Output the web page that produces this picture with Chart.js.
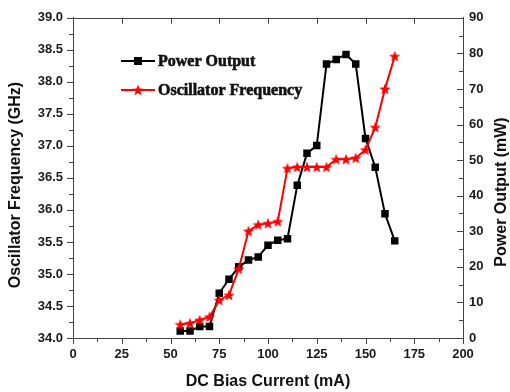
<!DOCTYPE html>
<html>
<head>
<meta charset="utf-8">
<script src="https://cdn.jsdelivr.net/npm/chart.js@4.4.1/dist/chart.umd.min.js"></script>
<style>
  html, body { margin: 0; padding: 0; background: #fff; }
  #wrap { width: 510px; height: 392px; }
</style>
</head>
<body>
<div id="wrap"><canvas id="chart" width="510" height="392"></canvas></div>
<script>
// --- Data ---
const biasCurrent = [55, 60, 65, 70, 75, 80, 85, 90, 95, 100, 105, 110, 115, 120, 125, 130, 135, 140, 145, 150, 155, 160, 165];
const powerOutput = [2.0, 2.0, 3.2, 3.2, 12.6, 16.5, 20.0, 21.9, 22.8, 26.1, 27.5, 27.9, 42.9, 51.9, 54.1, 77.0, 78.3, 79.7, 77.0, 56.1, 48.0, 34.9, 27.3];
const oscFrequency = [34.21, 34.23, 34.28, 34.33, 34.59, 34.67, 35.08, 35.67, 35.77, 35.79, 35.82, 36.65, 36.67, 36.67, 36.67, 36.67, 36.79, 36.79, 36.81, 36.94, 37.29, 37.89, 38.40];

const seriesNames = ['Power Output', 'Oscillator Frequency'];
const axisTitles = { x: 'DC Bias Current (mA)', y: 'Oscillator Frequency (GHz)', y1: 'Power Output (mW)' };

const xRange = { min: 0, max: 200, step: 25, minor: 12.5 };
const yRange = { min: 34, max: 39, step: 0.5, minor: 0.25 };
const y1Range = { min: 0, max: 90, step: 10, minor: 5 };

const axisColor = '#444';
const sansBold = { family: "'Liberation Sans', Arial, sans-serif", weight: 'bold', size: 13 };

// filled red star marker
function makeStar(size, color) {
    const c = document.createElement('canvas');
    c.width = size; c.height = size;
    const g = c.getContext('2d');
    const cx = size / 2, cy = size / 2 + 0.5, ro = size / 2, ri = ro * 0.42;
    g.beginPath();
    for (let i = 0; i < 10; i++) {
        const r = i % 2 === 0 ? ro : ri;
        const a = -Math.PI / 2 + i * Math.PI / 5;
        g.lineTo(cx + r * Math.cos(a), cy + r * Math.sin(a));
    }
    g.closePath();
    g.fillStyle = color;
    g.fill();
    return c;
}
const starImg = makeStar(12, '#ff0000');

// --- Plugin: box edge, inward/outward tick marks, y titles, legend ---
const decorPlugin = {
    id: 'decor',
    afterDraw(chart) {
        const { ctx, chartArea: a, scales } = chart;
        const sx = scales.x, sy = scales.y, sy1 = scales.y1;
        ctx.save();
        ctx.strokeStyle = axisColor;
        ctx.lineWidth = 1;
        const seg = (x1, y1, x2, y2) => { ctx.beginPath(); ctx.moveTo(x1, y1); ctx.lineTo(x2, y2); ctx.stroke(); };

        // top edge
        seg(a.left, Math.round(a.top) + 0.5, a.right, Math.round(a.top) + 0.5);

        // x ticks (bottom outward, top inward)
        for (let v = xRange.min; v <= xRange.max + 1e-9; v += xRange.minor) {
            const px = Math.round(sx.getPixelForValue(v)) + 0.5;
            const major = Math.abs(v / xRange.step - Math.round(v / xRange.step)) < 1e-6;
            seg(px, a.bottom, px, a.bottom + (major ? 6 : 4));
            if (major) seg(px, a.top, px, a.top + 6);
        }
        // left ticks outward
        for (let v = yRange.min; v <= yRange.max + 1e-9; v += yRange.minor) {
            const py = Math.round(sy.getPixelForValue(v)) + 0.5;
            const major = Math.abs(v / yRange.step - Math.round(v / yRange.step)) < 1e-6;
            seg(a.left - (major ? 6 : 4), py, a.left, py);
        }
        // right ticks inward
        for (let v = y1Range.min; v <= y1Range.max + 1e-9; v += y1Range.minor) {
            const py = Math.round(sy1.getPixelForValue(v)) + 0.5;
            const major = v % y1Range.step === 0;
            seg(a.right - (major ? 6 : 4), py, a.right, py);
        }

        // rotated y titles (both read bottom to top)
        ctx.fillStyle = '#111';
        ctx.font = "bold 16px 'Liberation Sans', Arial, sans-serif";
        ctx.textAlign = 'center';
        ctx.textBaseline = 'middle';
        [[axisTitles.y, 16, 185], [axisTitles.y1, 502, 192]].forEach(([t, x, y]) => {
            ctx.save();
            ctx.translate(x, y);
            ctx.rotate(-Math.PI / 2);
            ctx.fillText(t, 0, 0);
            ctx.restore();
        });

        // legend
        const items = [
            { label: seriesNames[0], color: '#000', y: 61, marker: 'rect' },
            { label: seriesNames[1], color: '#ff0000', y: 90, marker: 'star' }
        ];
        ctx.font = "700 16px 'Liberation Serif', 'Times New Roman', serif";
        ctx.textAlign = 'left';
        items.forEach(it => {
            ctx.strokeStyle = it.color;
            ctx.lineWidth = 2;
            seg(121, it.y, 155, it.y);
            if (it.marker === 'rect') {
                ctx.fillStyle = it.color;
                ctx.fillRect(134, it.y - 4, 8, 8);
            } else {
                ctx.drawImage(starImg, 138 - 6, it.y - 6);
            }
            ctx.fillStyle = '#111';
            ctx.fillText(it.label, 158, it.y + 1);
            // slightly heavier text, like the reference
            ctx.strokeStyle = '#111';
            ctx.lineWidth = 0.6;
            ctx.strokeText(it.label, 158, it.y + 1);
        });
        ctx.restore();
    }
};

const ctx = document.getElementById('chart').getContext('2d');
new Chart(ctx, {
    type: 'line',
    data: {
        datasets: [
            {
                label: seriesNames[0],
                data: biasCurrent.map((x, i) => ({ x, y: powerOutput[i] })),
                yAxisID: 'y1',
                borderColor: '#000',
                backgroundColor: '#000',
                borderWidth: 2,
                pointStyle: 'rect',
                pointRadius: 5.3,
                pointBorderWidth: 0,
                tension: 0,
                order: 1
            },
            {
                label: seriesNames[1],
                data: biasCurrent.map((x, i) => ({ x, y: oscFrequency[i] })),
                yAxisID: 'y',
                borderColor: '#ff0000',
                backgroundColor: '#ff0000',
                borderWidth: 2,
                pointStyle: starImg,
                pointRadius: 6,
                tension: 0,
                order: 0
            }
        ]
    },
    options: {
        responsive: false,
        animation: false,
        layout: { padding: { top: 16, left: 0, right: 0, bottom: 0 } },
        plugins: { legend: { display: false }, tooltip: { enabled: false } },
        scales: {
            x: {
                type: 'linear', position: 'bottom',
                min: xRange.min, max: xRange.max,
                ticks: { stepSize: xRange.step, padding: 9, color: '#1a1a1a', font: sansBold, maxRotation: 0 },
                grid: { display: false, drawTicks: false },
                border: { display: true, color: axisColor, width: 1 },
                title: { display: true, text: axisTitles.x, color: '#111', padding: { top: 0, bottom: 1 },
                         font: { family: "'Liberation Sans', Arial, sans-serif", weight: 'bold', size: 16 } },
                afterFit(s) { s.height = 54; }
            },
            y: {
                type: 'linear', position: 'left',
                min: yRange.min, max: yRange.max,
                ticks: { stepSize: yRange.step, padding: 10, color: '#1a1a1a', font: sansBold, callback: v => v.toFixed(1) },
                grid: { display: false, drawTicks: false },
                border: { display: true, color: axisColor, width: 1 },
                afterFit(s) { s.width = 73; }
            },
            y1: {
                type: 'linear', position: 'right',
                min: y1Range.min, max: y1Range.max,
                ticks: { stepSize: y1Range.step, padding: 6, color: '#1a1a1a', font: sansBold },
                grid: { display: false, drawTicks: false },
                border: { display: true, color: axisColor, width: 1 },
                afterFit(s) { s.width = 47; }
            }
        }
    },
    plugins: [decorPlugin]
});
</script>
</body>
</html>
